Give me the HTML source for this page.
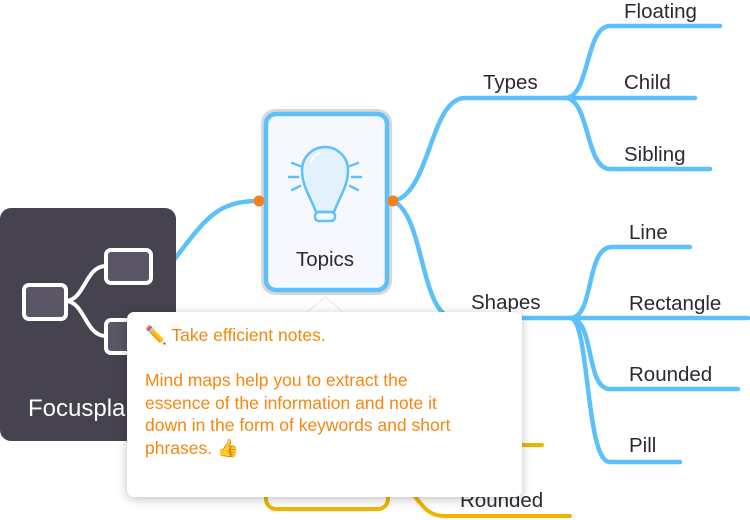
<!DOCTYPE html>
<html><head><meta charset="utf-8"><style>
html,body{margin:0;padding:0;background:#fff;width:750px;height:520px;overflow:hidden;font-family:"Liberation Sans",sans-serif;}
.t{position:absolute;font-size:20.5px;color:#2b2a33;white-space:nowrap;}
#tip{position:absolute;left:127px;top:312px;width:395px;height:185px;background:#fff;border-radius:7px;box-shadow:0 2px 10px rgba(0,0,0,0.25);}
#tip p{margin:0;position:absolute;left:18px;color:#f5870f;font-size:17.5px;line-height:22.6px;}
</style></head><body>
<svg width="750" height="520" style="position:absolute;left:0;top:0">
<g fill="none" stroke="#5bc0fb" stroke-width="4.5" stroke-linecap="round">
<path d="M170 265 C205 220 215 201 259 201"/>
<path d="M393 201 C430 195 430 98 465 98 L565 98"/>
<path d="M565 98 C590 98 585 26 610 26 L720 26"/>
<path d="M565 98 L695 98"/>
<path d="M565 98 C590 98 585 169 610 169 L710 169"/>
<path d="M393 201 C425 215 420 318 455 318 L570 318"/>
<path d="M570 318 C595 318 585 247 612 247 L690 247"/>
<path d="M570 318 L748 318"/>
<path d="M570 318 C595 318 585 389 610 389 L738 389"/>
<path d="M570 318 C590 318 585 462 610 462 L680 462"/>
</g>
<g fill="none" stroke="#f0b400" stroke-width="4" stroke-linecap="round">
<path d="M505 445 L542 445"/>
<path d="M410 490 C425 510 430 516 445 516 L570 516"/>
<rect x="266" y="440" width="122" height="69" rx="10"/>
</g>
<rect x="0" y="208" width="176" height="233" rx="11" fill="#46424f"/>
<g fill="#5a5665" stroke="#fff" stroke-width="4">
<path d="M66 301 C85 300 85 266 106 266" fill="none"/>
<path d="M66 301 C85 302 85 336 106 336" fill="none"/>
<rect x="24" y="285" width="42" height="34" rx="5"/>
<rect x="106" y="250" width="45" height="33" rx="5"/>
<rect x="106" y="320" width="45" height="33" rx="5"/>
</g>
<rect x="261" y="109" width="131" height="186" rx="14" fill="#d8d8d8"/>
<rect x="266" y="114" width="121" height="176" rx="10" fill="#f7f8fe" stroke="#5bc0fb" stroke-width="4.5"/>
<g stroke="#5bc0fb" stroke-width="2.5" fill="none" stroke-linecap="round">
<path d="M316 212 C310 196 302 186 302 170 A23 23 0 0 1 348 170 C348 186 340 196 334 212 Z" fill="#e3f1fd"/>
<rect x="315" y="212" width="20" height="9" rx="4"/>
<path d="M292 163 L300 166 M289 177 L298 177 M292 190 L300 186 M358 163 L350 166 M361 177 L352 177 M358 190 L350 186"/>
<path d="M311 162 A14 14 0 0 1 320 153" stroke="#fff" stroke-width="2"/>
</g>
<circle cx="259" cy="201" r="5.5" fill="#f5801f"/>
<circle cx="393" cy="201" r="5.5" fill="#f5801f"/>
<path d="M305 314 L325 297 L345 314 Z" fill="#fff" stroke="#e6e6e6" stroke-width="1"/>
</svg>
<div class="t" style="left:325px;top:248px;transform:translateX(-50%);">Topics</div>
<div class="t" style="left:483px;top:71px;">Types</div>
<div class="t" style="left:624px;top:0px;">Floating</div>
<div class="t" style="left:624px;top:71px;">Child</div>
<div class="t" style="left:624px;top:143px;">Sibling</div>
<div class="t" style="left:471px;top:291px;">Shapes</div>
<div class="t" style="left:629px;top:221px;">Line</div>
<div class="t" style="left:629px;top:292px;">Rectangle</div>
<div class="t" style="left:629px;top:363px;">Rounded</div>
<div class="t" style="left:629px;top:434px;">Pill</div>
<div class="t" style="left:460px;top:489px;">Rounded</div>
<div class="t" style="left:28px;top:395px;color:#fff;font-size:24px;">Focusplan</div>
<div id="tip">
<p style="top:12px;">✏️ Take efficient notes.</p>
<p style="top:57px;">Mind maps help you to extract the<br>essence of the information and note it<br>down in the form of keywords and short<br>phrases. 👍</p>
</div>
</body></html>
